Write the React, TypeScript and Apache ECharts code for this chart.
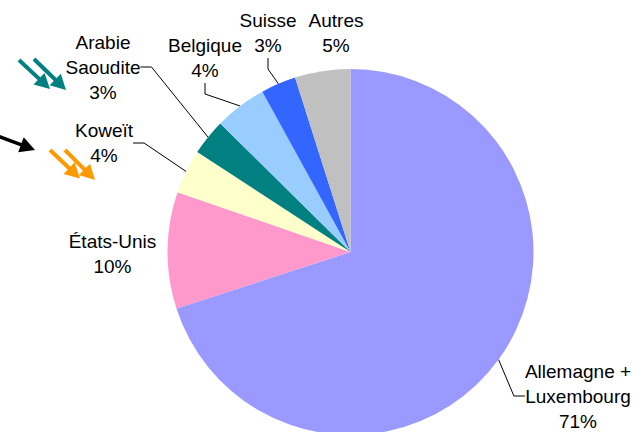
import React, { useEffect, useRef } from "react";
import * as echarts from "echarts";

// Data
const countries = ["Allemagne +\nLuxembourg", "États-Unis", "Koweït", "Arabie\nSaoudite", "Belgique", "Suisse", "Autres"];
const shares = [70.0, 10.3, 3.9, 3.2, 4.6, 3.1, 4.9];
const shareLabels = ["71%", "10%", "4%", "3%", "4%", "3%", "5%"];
const colors = ["#9999FF", "#FF99CC", "#FFFFCC", "#008080", "#99CCFF", "#3366FF", "#C0C0C0"];
const showLeader = [true, false, true, true, true, true, false];

// Label block centres (layout only)
const labelPos: [number, number][] = [
  [578, 396],
  [112.5, 254],
  [104, 143],
  [103, 67],
  [205, 58],
  [268, 33],
  [336, 33],
];

// Decorative arrows: start, tip, colour, width
const arrows: { from: [number, number]; to: [number, number]; color: string; w: number }[] = [
  { from: [19, 60], to: [50, 89], color: "#008080", w: 4 },
  { from: [34, 59], to: [66, 90], color: "#008080", w: 4 },
  { from: [-4, 135.5], to: [35, 150], color: "#000000", w: 3.5 },
  { from: [50, 150], to: [80, 178.5], color: "#FF9900", w: 4 },
  { from: [65, 150], to: [95, 180], color: "#FF9900", w: 4 },
];

function arrowGraphics() {
  const out: any[] = [];
  arrows.forEach((a) => {
    const [x1, y1] = a.from;
    const [x2, y2] = a.to;
    const dx = x2 - x1, dy = y2 - y1;
    const len = Math.sqrt(dx * dx + dy * dy);
    const ux = dx / len, uy = dy / len;
    const px = -uy, py = ux;
    const hl = 15, hw = 8;
    const bx = x2 - ux * hl, by = y2 - uy * hl;
    out.push({
      type: "line",
      shape: { x1, y1, x2: bx + ux * 2, y2: by + uy * 2 },
      style: { stroke: a.color, lineWidth: a.w },
      silent: true,
    });
    out.push({
      type: "polygon",
      shape: { points: [[x2, y2], [bx + px * hw, by + py * hw], [bx - px * hw, by - py * hw]] },
      style: { fill: a.color },
      silent: true,
    });
  });
  return out;
}

export default function App() {
  const ref = useRef<HTMLDivElement>(null);
  useEffect(() => {
    if (!ref.current) return;
    document.body.style.margin = "0";
    const chart = echarts.init(ref.current, undefined, { renderer: "svg" });
    chart.setOption({
      animation: false,
      backgroundColor: "#FFFFFF",
      graphic: arrowGraphics(),
      series: [
        {
          type: "pie",
          center: [350.5, 252],
          radius: 183,
          startAngle: 90,
          clockwise: true,
          avoidLabelOverlap: false,
          itemStyle: { borderWidth: 0 },
          label: {
            show: true,
            position: "outside",
            color: "#000000",
            fontFamily: "'Liberation Sans', Arial, sans-serif",
            fontSize: 19,
            lineHeight: 25,
            align: "center",
            formatter: (p: any) => p.name + "\n" + shareLabels[p.dataIndex],
          },
          labelLine: {
            show: true,
            length: 10,
            length2: 11,
            lineStyle: { color: "#000000", width: 1 },
          },
          labelLayout: (params: any) => ({
            x: labelPos[params.dataIndex][0],
            y: labelPos[params.dataIndex][1],
            align: "center",
            verticalAlign: "middle",
          }),
          emphasis: { disabled: true },
          data: countries.map((name, i) => ({
            name,
            value: shares[i],
            itemStyle: { color: colors[i] },
            labelLine: { show: showLeader[i] },
          })),
        },
      ],
    });
    return () => chart.dispose();
  }, []);
  return <div ref={ref} style={{ width: 633, height: 432 }} />;
}
